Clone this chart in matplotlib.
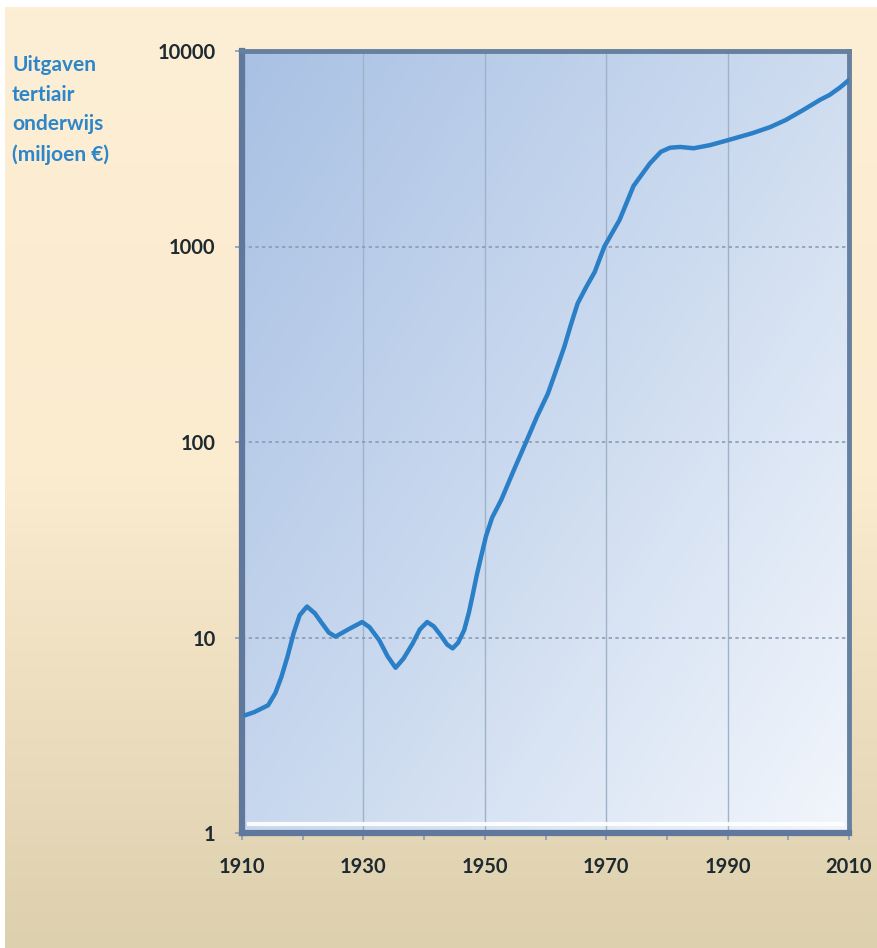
import matplotlib
matplotlib.use('Agg')
import matplotlib.pyplot as plt
import numpy as np
from matplotlib.colors import LinearSegmentedColormap

# data
jaren = [1910.5, 1912.0, 1914.3, 1915.5, 1916.5, 1917.5, 1918.5, 1919.5, 1920.7,
         1922.0, 1923.2, 1924.3, 1925.4, 1927.5, 1929.8, 1931.0, 1932.6, 1934.0,
         1935.3, 1936.6, 1938.1, 1939.3, 1940.5, 1941.6, 1942.7, 1943.8, 1944.7,
         1945.6, 1946.6, 1947.4, 1948.0, 1948.7, 1949.4, 1950.2, 1951.2, 1952.7,
         1954.8, 1956.8, 1958.6, 1960.4, 1961.8, 1963.1, 1964.2, 1965.3, 1966.7,
         1968.1, 1969.7, 1972.2, 1974.5, 1977.2, 1979.0, 1980.5, 1982.2, 1984.4,
         1987.1, 1989.8, 1992.0, 1994.1, 1997.0, 1999.6, 2002.5, 2005.2, 2006.8,
         2008.5, 2010.0]
uitgaven = [4.0, 4.15, 4.5, 5.2, 6.3, 8.0, 10.5, 13.0, 14.4,
            13.3, 11.8, 10.6, 10.1, 11.0, 12.0, 11.3, 9.7, 8.0,
            7.0, 7.8, 9.3, 11.0, 12.0, 11.4, 10.3, 9.2, 8.8,
            9.4, 10.9, 13.5, 16.5, 21.0, 26.0, 33.0, 41.0, 50.5,
            72, 100, 135, 177, 235, 307, 400, 512, 620,
            740, 1000, 1367, 2040, 2660, 3050, 3200, 3230, 3180,
            3300, 3480, 3640, 3800, 4080, 4440, 5000, 5620, 5960,
            6500, 7110]

x_ticks = [1910, 1930, 1950, 1970, 1990, 2010]
y_ticks = [1, 10, 100, 1000, 10000]
y_label = 'Uitgaven\ntertiair\nonderwijs\n(miljoen €)'

plt.rcParams['font.family'] = ['Lato', 'DejaVu Sans']

fig = plt.figure(figsize=(8.77, 9.48), dpi=100)
fig.patch.set_facecolor('white')

# achtergrond (cream naar tan)
bg = fig.add_axes([5 / 877, 0, 1 - 5 / 877, 1 - 7 / 948])
bg_cmap = LinearSegmentedColormap.from_list('bg', ['#fdefd5', '#fbebcf', '#ddd0ae'])
grad = np.linspace(0, 1, 256).reshape(-1, 1)
bg.imshow(grad, aspect='auto', cmap=bg_cmap, extent=[0, 1, 0, 1], origin='upper')
bg.set_axis_off()

pos = [242 / 877, 115 / 948, 607 / 877, 782 / 948]

# verloop in het plotvlak
grad_ax = fig.add_axes(pos)
yy, xx = np.mgrid[0:1:200j, 0:1:200j]
g = 0.55 * xx + 0.45 * yy
ax_cmap = LinearSegmentedColormap.from_list('ax', ['#a9c1e4', '#cbdaef', '#f2f6fc'])
grad_ax.imshow(g, aspect='auto', cmap=ax_cmap, extent=[0, 1, 0, 1], origin='upper')
grad_ax.set_axis_off()

ax = fig.add_axes(pos)
ax.set_facecolor('none')
ax.set_yscale('log')
ax.set_xlim(1910, 2010)
ax.set_ylim(1, 10000)

ax.grid(axis='y', which='major', color='#8a9cb4', linestyle=(0, (2, 2)), linewidth=1.2)
ax.grid(axis='x', which='major', color='#9fb2c8', linestyle='-', linewidth=1.0)
ax.set_axisbelow(True)

ax.plot(jaren, uitgaven, color='#2b7fc6', linewidth=3.2, solid_capstyle='round',
        solid_joinstyle='round', zorder=3)

ax.set_xticks(x_ticks)
ax.set_xticks(np.arange(1920, 2010, 20), minor=True)
ax.set_yticks(y_ticks)
ax.set_yticklabels([str(v) for v in y_ticks])
ax.yaxis.set_minor_locator(matplotlib.ticker.NullLocator())
ax.tick_params(axis='both', which='both', length=5, color='#8a9cb4', width=1.2,
               labelsize=14.5, labelcolor='#1f2a30')
ax.tick_params(axis='x', pad=12)
ax.tick_params(axis='y', pad=14)
for lbl in ax.get_xticklabels() + ax.get_yticklabels():
    lbl.set_fontweight('bold')

for side in ['left', 'bottom']:
    ax.spines[side].set_color('#5f789c')
    ax.spines[side].set_linewidth(4.5)
for side in ['top', 'right']:
    ax.spines[side].set_color('#66809f')
    ax.spines[side].set_linewidth(3.5)

# witte rand binnen het kader
ax.plot([0.012, 0.988], [0.012, 0.012], transform=ax.transAxes, color='white',
        linewidth=3, zorder=2, alpha=0.9)

fig.text(12 / 877, 1 - 55 / 948, y_label, color='#2c86c9', fontsize=15,
         fontweight='bold', va='top', ha='left', linespacing=1.6)

fig.savefig('out.png', dpi=100, facecolor=fig.get_facecolor())
